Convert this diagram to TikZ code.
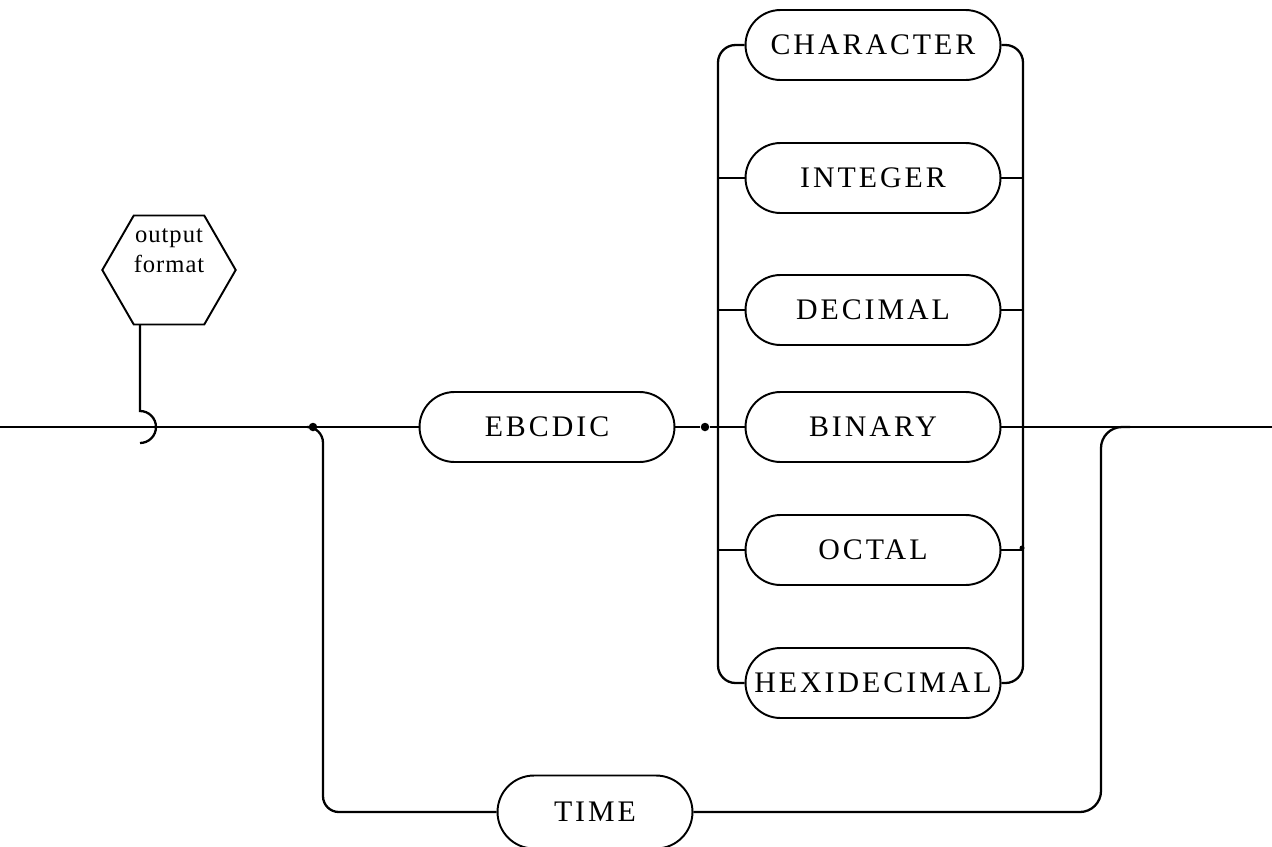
\documentclass[tikz,border=0pt]{standalone}
\usepackage{fontspec}
\newfontfamily\diagfont[LetterSpace=10]{Liberation Serif}
\newfontfamily\hexfont[LetterSpace=4]{Liberation Serif}
\usetikzlibrary{shapes.misc,shapes.symbols}
\begin{document}
\begin{tikzpicture}
[x=0.02cm,y=-0.02cm,
  boxdecorate/.style={shape=rounded rectangle,draw,line width=1.1pt,
    minimum width=5.1cm,minimum height=1.4cm,inner sep=0pt,
    font=\diagfont\fontsize{17}{19}\selectfont},%
  hexdecorate/.style={shape=signal,signal to=west and east,
    signal pointer angle=120,draw,line width=1.1pt,
    minimum width=2.64cm,minimum height=2.18cm,inner sep=0pt,align=center,
    font=\hexfont\fontsize{14}{17}\selectfont},%
  linedecorate/.style={-,line width=1.3pt},
  dotdecorate/.style={shape=circle,fill,inner sep=0pt,minimum size=0.17cm}]
\useasboundingbox (0,0) rectangle (1272,846);
%% nodes or vertices
\node (fmt) at (169,270) [hexdecorate] {output\\format\\\strut};
\node (ebcdic) at (547,427) [boxdecorate] {EBCDIC};
\node (time) at (595,812) [boxdecorate,minimum width=3.9cm,minimum height=1.46cm] {TIME};
\foreach \nodename/\text/\y in {chr/CHARACTER/45, int/INTEGER/178, dec/DECIMAL/310,
  bin/BINARY/427, oct/OCTAL/550, hex/HEXIDECIMAL/683} {
  \node (\nodename) at (873,\y) [boxdecorate] {\text};
}
\node (jl) at (313,427) [dotdecorate] {};
\node (jr) at (705,427) [dotdecorate] {};
\node (jo) at (1022,548) [dotdecorate,minimum size=0.1cm] {};
\coordinate (start) at (0,427);
\coordinate (end) at (1272,427);
\coordinate (stem) at (140,324);
\coordinate (hook) at (140,411);
\coordinate (lbus) at (718,427);
\coordinate (rbus) at (1023,427);
%% edges or lines
\draw[linedecorate] (stem) -- (hook) arc (-90:90:16);
\draw[linedecorate] (start) -- (ebcdic.west);
\draw[linedecorate] (ebcdic.east) -- (jr) -- (lbus);
\draw[linedecorate] (bin.east) -- (end);
\draw[linedecorate,rounded corners=10] (chr.west) -| (lbus |- hex.west) -- (hex.west);
\draw[linedecorate,rounded corners=10] (chr.east) -| (rbus |- hex.east) -- (hex.east);
\path
\foreach \nodename in {int, dec, bin, oct} {
  (\nodename.west) edge[linedecorate] (lbus |- \nodename.west)
  (\nodename.east) edge[linedecorate] (rbus |- \nodename.east)
};
\draw[linedecorate,rounded corners=9] (jl.center) -| (323,812) -- (time.west);
\draw[linedecorate,rounded corners=12] (time.east) -| (1101,427) -- (1130,427);
\end{tikzpicture}
\end{document}
